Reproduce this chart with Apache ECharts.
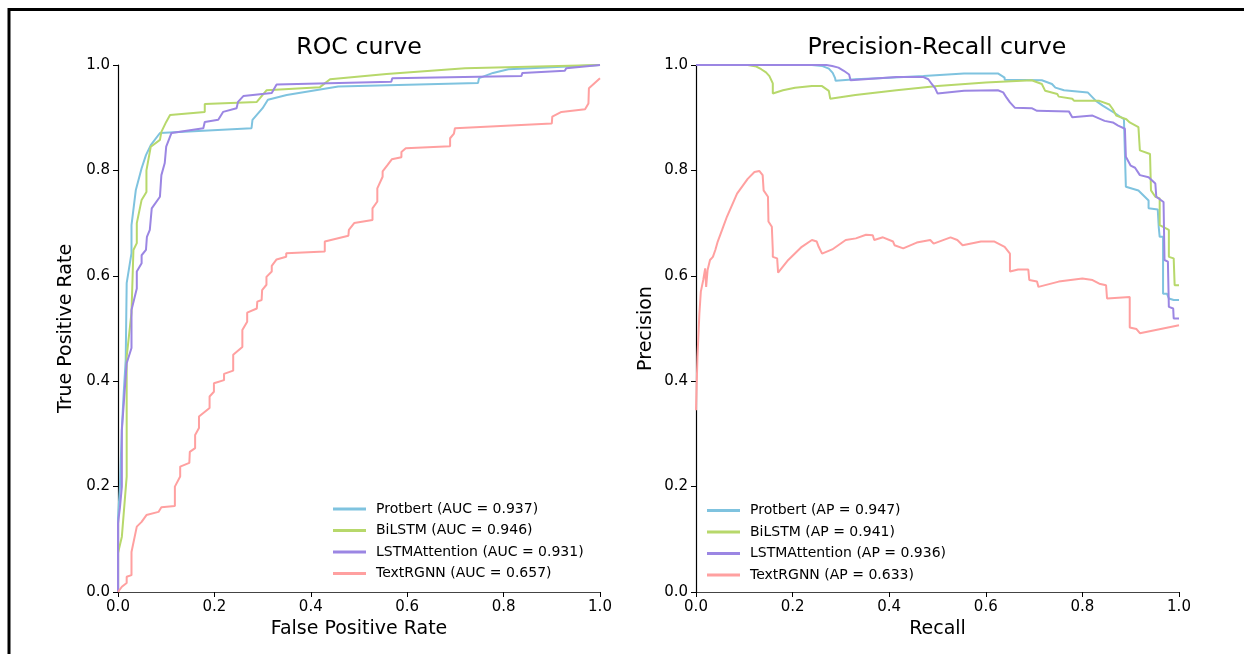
<!DOCTYPE html>
<html><head><meta charset="utf-8">
<script src="https://cdn.jsdelivr.net/npm/echarts@6/dist/echarts.min.js"></script>
<style>html,body{margin:0;padding:0;background:#fff}#c{width:1244px;height:654px}</style>
</head><body><div id="c"></div>
<script>
const tickLabels = ['0.0','0.2','0.4','0.6','0.8','1.0'];
const modelNames = ['Protbert','BiLSTM','LSTMAttention','TextRGNN'];
const aucValues = ['0.937','0.946','0.931','0.657'];
const apValues = ['0.947','0.941','0.936','0.633'];
const colors = ['#7fc3df','#b7d86b','#9b86e3','#ffa0a0'];

// ROC curves: [FPR, TPR]
const rocProtbert = [[0,0],[0,0.14],[0.004,0.2],[0.008,0.31],[0.012,0.38],[0.016,0.44],[0.018,0.586],[0.028,0.643],[0.028,0.696],[0.037,0.763],[0.049,0.804],[0.058,0.829],[0.068,0.848],[0.087,0.871],[0.277,0.880],[0.279,0.896],[0.300,0.918],[0.311,0.934],[0.35,0.943],[0.457,0.959],[0.747,0.966],[0.749,0.975],[0.778,0.985],[0.81,0.992],[1,1]];
const rocBiLSTM = [[0,0],[0,0.074],[0.008,0.105],[0.018,0.219],[0.018,0.446],[0.028,0.53],[0.032,0.649],[0.039,0.662],[0.039,0.70],[0.049,0.744],[0.059,0.759],[0.059,0.80],[0.068,0.845],[0.087,0.858],[0.09,0.873],[0.1,0.892],[0.108,0.905],[0.18,0.911],[0.18,0.926],[0.288,0.93],[0.308,0.952],[0.419,0.958],[0.44,0.973],[0.557,0.983],[0.72,0.994],[1,1]];
const rocLSTMAttention = [[0,0],[0,0.13],[0.004,0.16],[0.008,0.2],[0.008,0.307],[0.018,0.434],[0.028,0.463],[0.028,0.535],[0.039,0.576],[0.039,0.608],[0.049,0.624],[0.049,0.639],[0.058,0.649],[0.06,0.674],[0.066,0.687],[0.07,0.728],[0.087,0.75],[0.09,0.791],[0.097,0.814],[0.1,0.845],[0.111,0.871],[0.177,0.88],[0.18,0.892],[0.208,0.896],[0.218,0.911],[0.246,0.918],[0.249,0.93],[0.26,0.941],[0.319,0.947],[0.329,0.963],[0.567,0.968],[0.569,0.975],[0.837,0.979],[0.839,0.985],[0.927,0.989],[0.93,0.994],[1,1]];
const rocTextRGNN = [[0,0],[0.008,0.01],[0.018,0.017],[0.018,0.029],[0.028,0.032],[0.028,0.076],[0.039,0.124],[0.049,0.133],[0.059,0.146],[0.084,0.152],[0.09,0.161],[0.118,0.163],[0.118,0.2],[0.129,0.219],[0.129,0.238],[0.148,0.245],[0.149,0.266],[0.16,0.273],[0.16,0.298],[0.168,0.311],[0.168,0.333],[0.19,0.349],[0.19,0.371],[0.199,0.38],[0.199,0.396],[0.22,0.402],[0.22,0.414],[0.239,0.42],[0.239,0.45],[0.258,0.465],[0.258,0.497],[0.268,0.513],[0.268,0.53],[0.288,0.538],[0.289,0.551],[0.298,0.554],[0.299,0.573],[0.308,0.583],[0.308,0.598],[0.319,0.608],[0.319,0.619],[0.329,0.631],[0.349,0.636],[0.349,0.643],[0.429,0.646],[0.429,0.665],[0.478,0.676],[0.479,0.687],[0.49,0.70],[0.528,0.706],[0.528,0.728],[0.538,0.741],[0.538,0.766],[0.549,0.788],[0.549,0.798],[0.559,0.81],[0.568,0.821],[0.588,0.825],[0.588,0.835],[0.597,0.842],[0.689,0.846],[0.689,0.861],[0.697,0.87],[0.699,0.88],[0.9,0.889],[0.901,0.902],[0.92,0.911],[0.969,0.916],[0.976,0.927],[0.977,0.956],[1,0.975]];

// PR curves: [Recall, Precision]
const prProtbert = [[0,1],[0.24,1],[0.262,0.998],[0.275,0.993],[0.283,0.985],[0.288,0.975],[0.289,0.970],[0.33,0.973],[0.40,0.976],[0.471,0.979],[0.555,0.984],[0.625,0.984],[0.639,0.976],[0.639,0.972],[0.716,0.971],[0.737,0.964],[0.744,0.957],[0.762,0.952],[0.811,0.948],[0.828,0.932],[0.842,0.923],[0.870,0.907],[0.886,0.897],[0.890,0.769],[0.916,0.762],[0.937,0.743],[0.937,0.728],[0.956,0.726],[0.958,0.693],[0.960,0.674],[0.967,0.674],[0.967,0.566],[0.975,0.566],[0.979,0.557],[0.989,0.554],[1,0.554]];
const prBiLSTM = [[0,1],[0.107,1],[0.125,0.997],[0.135,0.992],[0.145,0.986],[0.152,0.979],[0.159,0.965],[0.159,0.946],[0.18,0.952],[0.205,0.957],[0.24,0.960],[0.261,0.960],[0.275,0.951],[0.278,0.936],[0.33,0.943],[0.415,0.952],[0.5,0.960],[0.6,0.967],[0.695,0.971],[0.716,0.964],[0.723,0.951],[0.748,0.945],[0.751,0.940],[0.779,0.936],[0.783,0.932],[0.835,0.932],[0.856,0.925],[0.863,0.916],[0.870,0.904],[0.891,0.897],[0.898,0.891],[0.916,0.882],[0.919,0.838],[0.940,0.831],[0.942,0.762],[0.951,0.750],[0.960,0.747],[0.960,0.696],[0.979,0.687],[0.979,0.636],[0.989,0.633],[0.991,0.582],[1,0.582]];
const prLSTMAttention = [[0,1],[0.27,1],[0.282,0.998],[0.295,0.995],[0.306,0.989],[0.317,0.982],[0.320,0.971],[0.415,0.977],[0.471,0.977],[0.481,0.973],[0.488,0.964],[0.495,0.956],[0.500,0.946],[0.555,0.951],[0.625,0.952],[0.636,0.948],[0.643,0.938],[0.650,0.929],[0.660,0.919],[0.695,0.918],[0.706,0.913],[0.772,0.912],[0.779,0.901],[0.821,0.904],[0.846,0.894],[0.863,0.891],[0.874,0.885],[0.888,0.879],[0.890,0.826],[0.900,0.809],[0.909,0.805],[0.919,0.791],[0.937,0.787],[0.951,0.775],[0.953,0.750],[0.968,0.740],[0.970,0.630],[0.977,0.627],[0.979,0.541],[0.988,0.538],[0.989,0.519],[1,0.519]];
const prTextRGNN = [[0,0.345],[0.003,0.446],[0.007,0.528],[0.010,0.570],[0.015,0.592],[0.019,0.614],[0.021,0.579],[0.024,0.611],[0.029,0.630],[0.035,0.636],[0.040,0.649],[0.045,0.665],[0.054,0.687],[0.064,0.712],[0.085,0.756],[0.107,0.784],[0.121,0.797],[0.131,0.799],[0.138,0.791],[0.140,0.762],[0.149,0.750],[0.150,0.703],[0.157,0.693],[0.159,0.649],[0.159,0.636],[0.168,0.633],[0.170,0.606],[0.191,0.630],[0.219,0.655],[0.240,0.668],[0.250,0.665],[0.254,0.655],[0.261,0.642],[0.282,0.650],[0.310,0.668],[0.331,0.671],[0.352,0.678],[0.366,0.677],[0.369,0.668],[0.387,0.673],[0.408,0.665],[0.411,0.658],[0.429,0.652],[0.457,0.663],[0.485,0.668],[0.492,0.661],[0.527,0.673],[0.541,0.668],[0.552,0.658],[0.590,0.665],[0.618,0.665],[0.639,0.655],[0.650,0.642],[0.650,0.608],[0.667,0.612],[0.688,0.612],[0.690,0.592],[0.706,0.589],[0.709,0.579],[0.751,0.589],[0.800,0.595],[0.821,0.592],[0.835,0.585],[0.849,0.582],[0.851,0.557],[0.898,0.560],[0.898,0.502],[0.912,0.499],[0.919,0.491],[1,0.506]];

const rocData = [rocProtbert, rocBiLSTM, rocLSTMAttention, rocTextRGNN];
const prData = [prProtbert, prBiLSTM, prLSTMAttention, prTextRGNN];
const rocNames = modelNames.map((m,i)=>m+' (AUC = '+aucValues[i]+')');
const prNames = modelNames.map((m,i)=>m+' (AP = '+apValues[i]+')');

const FONT = 'DejaVu Sans';
function axis(gridIndex, name, gap, isY){
  return {
    type:'value', gridIndex, min:0, max:1, interval:0.2,
    name, nameLocation:'middle', nameGap:gap,
    nameTextStyle:{fontSize:19, color:'#000', fontFamily:FONT},
    axisLine:{show:true, onZero:false, lineStyle:{color: isY ? '#000' : '#444', width:1.2}},
    axisTick:{show:true, length:5, inside:false, lineStyle:{color:'#000', width:1}},
    axisLabel:{show:true, formatter:(v)=>tickLabels[Math.round(v*5)], color:'#000', fontSize:15, fontFamily:FONT, margin:8},
    splitLine:{show:false}
  };
}
function lines(data, names, axisIdx){
  return data.map((d,i)=>({
    type:'line', name:names[i], data:d, xAxisIndex:axisIdx, yAxisIndex:axisIdx,
    showSymbol:false, symbol:'none', color:colors[i],
    lineStyle:{width:2, color:colors[i]}, z:2+i, animation:false
  }));
}
function legend(names, left, top){
  return {
    data:names, orient:'vertical', left, top, itemWidth:33, itemHeight:3, itemGap:5.5,
    icon:'rect', selectedMode:false,
    textStyle:{fontSize:14, fontFamily:FONT, color:'#000', lineHeight:16, padding:[0,0,0,5]}
  };
}
const chart = echarts.init(document.getElementById('c'), null, {renderer:'canvas'});
chart.setOption({
  animation:false,
  backgroundColor:'#fff',
  grid:[{left:118, right:644, top:65, bottom:62},{left:696, right:65, top:65, bottom:62}],
  xAxis:[axis(0,'False Positive Rate',25,false), axis(1,'Recall',25,false)],
  yAxis:[axis(0,'True Positive Rate',42,true), axis(1,'Precision',40,true)],
  legend:[legend(rocNames,328,496), legend(prNames,702,497.5)],
  series:[...lines(rocData, rocNames, 0), ...lines(prData, prNames, 1)],
  graphic:[
    {type:'rect', silent:true, shape:{x:9, y:9.5, width:1400, height:800}, style:{fill:'none', stroke:'#000', lineWidth:3}},
    {type:'text', silent:true, x:359, y:48, style:{text:'ROC curve', align:'center', verticalAlign:'middle', fontSize:23.7, fontFamily:FONT, fill:'#000'}},
    {type:'text', silent:true, x:937, y:48, style:{text:'Precision-Recall curve', align:'center', verticalAlign:'middle', fontSize:23.7, fontFamily:FONT, fill:'#000'}}
  ]
});
</script></body></html>
